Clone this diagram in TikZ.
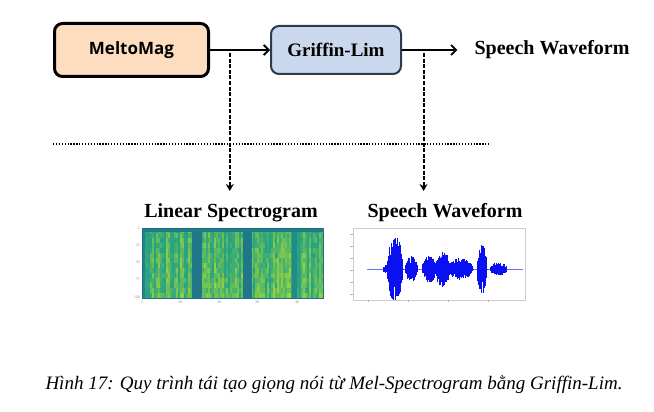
\documentclass[tikz,border=0pt]{standalone}
\usepackage{fontspec}
\setmainfont{Liberation Serif}
\newfontfamily\boxfont{Open Sans}
\usetikzlibrary{positioning,arrows.meta,calc}
\definecolor{peach}{HTML}{FCDDBF}
\definecolor{paleblue}{HTML}{C9D8EC}
\definecolor{slate}{HTML}{2E3B4A}
\definecolor{specdark}{HTML}{1F6F8B}
\definecolor{specgreen}{HTML}{27A383}
\definecolor{specyellow}{HTML}{B5DE2B}
\definecolor{wave}{HTML}{0A10F0}

\begin{document}
\begin{tikzpicture}[x=1pt,y=1pt,node distance=60pt,on grid,
	block/.style={rounded corners=8pt,align=center},
	flow/.style={line width=1.8pt,-{Straight Barb[length=5pt,width=10pt]}},
	tap/.style={line width=2pt,dash pattern=on 4pt off 1.6pt,-{Stealth[length=7pt,width=8pt]}},
	heading/.style={font=\fontsize{20}{20}\selectfont\bfseries,inner sep=0pt},
	tick/.style={font=\fontsize{4}{4}\selectfont,text=black!45,inner sep=1pt}]
	\useasboundingbox (0,0) rectangle (654,-412);
	
	\node[block, draw=black, line width=3pt, fill=peach, minimum width=154pt, minimum height=53pt,
		font=\boxfont\fontsize{17}{17}\selectfont\bfseries] (mel) at (131.5,-50) {MeltoMag};
	\node[block, draw=slate, line width=2pt, fill=paleblue, minimum width=130pt, minimum height=48pt,
		font=\fontsize{19}{19}\selectfont\bfseries] (gl) [right=204.5pt of mel] {Griffin-Lim};
	\node[heading] (out) [right=216pt of gl] {Speech Waveform};
	
	\draw[flow] (mel) -- (gl);
	\draw[flow] (gl) -- ([xshift=-17pt]out.west);
	
	\coordinate (tap1) at ($(mel.east)!0.33!(gl.west)$);
	\coordinate (tap2) at ($(gl.east)!0.39!([xshift=-17pt]out.west)$);
	\node[heading] (spectitle) at (231,-213) {Linear Spectrogram};
	\node[heading] (wavetitle) at (445,-213) {Speech Waveform};
	
	\coordinate (dotL) at (53,-144);
	\coordinate (dotR) at (490,-144);
	\draw[line width=2pt, dash pattern=on 1.3pt off 1.6pt] (dotL) -- (dotR);
	
	\draw[tap] ([yshift=-3pt]tap1) -- ++(0,-138pt);
	\draw[tap] ([yshift=-3pt]tap2) -- ++(0,-138pt);
	
	% spectrogram
	\begin{scope}[shift={(142,-298)}]
		\pgfmathsetseed{17}
		\foreach \i in {0,...,89}{
			\pgfmathsetmacro\colmix{rnd}
			\foreach \j in {0,...,13}{
				\pgfmathtruncatemacro\mix{min(100,max(0,100*(0.7*\colmix+0.5*rnd-0.4+0.015*(7-\j))))}
				\fill[specyellow!\mix!specgreen] (\i*2.011,\j*5) rectangle ++(2.1,5.1);
			}
		}
		\fill[specdark!85!specgreen] (50,0) rectangle (60,70);
		\fill[specdark!85!specgreen] (101,0) rectangle (110,70);
		\fill[specdark!45!specgreen] (150,0) rectangle (155,70);
		\fill[specdark!60!specgreen] (0,0) rectangle (3,70);
		\fill[specdark!70!specgreen] (0,66) rectangle (181,70);
		\draw[specdark, line width=0.8pt] (0,0) rectangle (181,70);
		\foreach \lab/\yy in {1/70,25/53,50/36,75/19,100/1}
			\node[tick, anchor=east] at (-1,\yy) {\lab};
		\foreach \lab/\xx in {1/0,10/38,20/77,30/115,40/155}
			\node[tick, anchor=north] at (\xx,-2) {\lab};
	\end{scope}
	
	% waveform
	\begin{scope}[shift={(353,-300)}]
		\draw[black!20, line width=0.5pt] (0,0) rectangle (172,72);
		\foreach \yy in {6,18,30,42,54,66}
			\draw[black!30, line width=0.6pt] (-3,\yy) -- (0,\yy);
		\foreach \xx in {15,55,95,135}
			\draw[black!30, line width=0.6pt] (\xx,-2) -- (\xx,0);
		\draw[wave!60, line width=0.5pt] (14,31) -- (170,31);
		\pgfmathsetseed{5}
		\foreach \s/\e/\amp in {30/37/5,34/50/34,52/65/13,69/84/14,82/97/18,94/120/11,124/134/25,137/154/7}{
			\foreach \xx in {\s,\s.4,...,\e}{
				\pgfmathsetmacro\env{\amp*sqrt(max(0,sin(180*(\xx-\s)/(\e-\s))))}
				\pgfmathsetmacro\up{\env*(0.45+0.55*rnd)}
				\pgfmathsetmacro\dn{\env*(0.45+0.55*rnd)}
				\draw[wave, line width=0.7pt] (\xx,31+\up) -- (\xx,31-\dn);
			}
		}
	\end{scope}
	
	\node[font=\fontsize{19}{19}\selectfont\itshape] (caption) at (334,-385)
		{Hình 17: Quy trình tái tạo giọng nói từ Mel-Spectrogram bằng Griffin-Lim.};
\end{tikzpicture}
\end{document}
